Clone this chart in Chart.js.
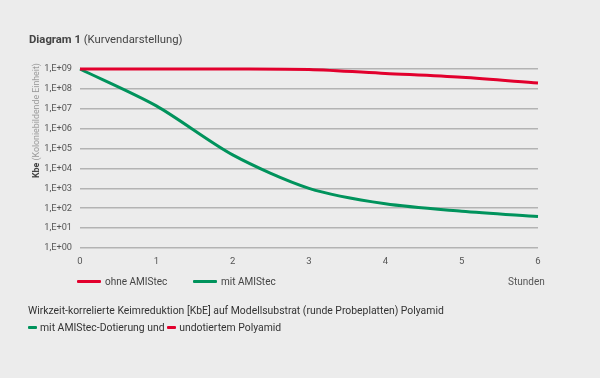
<!DOCTYPE html>
<html>
<head>
<meta charset="utf-8">
<script src="https://cdn.jsdelivr.net/npm/chart.js@4"></script>
<style>
  body { margin: 0; background: #ececec; font-family: Roboto, sans-serif; color: #444; }
  #wrap { position: relative; width: 600px; height: 378px; overflow: hidden; }
  #chart { position: absolute; left: 0; top: 0; }
  .txt { position: absolute; white-space: nowrap; }
  .dash { display: inline-block; width: 9px; height: 3px; border-radius: 1px; vertical-align: middle; margin-right: 3px; position: relative; top: -1px; }
  .lg { display: inline-block; width: 24px; height: 3px; border-radius: 1px; vertical-align: middle; margin-right: 4px; position: relative; top: -1px; }
</style>
</head>
<body>
<div id="wrap">
  <canvas id="chart" width="600" height="378"></canvas>
  <div class="txt" style="left:29px; top:33px; font-size:11.3px; color:#444;"><b style="font-weight:700">Diagram 1</b> (Kurvendarstellung)</div>
  <div class="txt" style="left:31px; top:178px; font-size:8.8px; transform-origin:0 0; transform:rotate(-90deg); color:#999;"><span style="color:#444;font-weight:700">Kbe</span> (Koloniebildende Einheit)</div>
  <div class="txt" style="left:77px; top:276px; font-size:10px; color:#444;"><span class="lg" style="background:#e2002d"></span>ohne AMIStec</div>
  <div class="txt" style="left:193px; top:276px; font-size:10px; color:#444;"><span class="lg" style="background:#00935c"></span>mit AMIStec</div>
  <div class="txt" style="left:508px; top:276px; font-size:10px; color:#555;">Stunden</div>
  <div class="txt" style="left:28px; top:304px; font-size:10.4px; color:#333;">Wirkzeit-korrelierte Keimreduktion [KbE] auf Modellsubstrat (runde Probeplatten) Polyamid</div>
  <div class="txt" style="left:28px; top:321px; font-size:10.4px; color:#333;"><span class="dash" style="background:#00935c"></span>mit AMIStec-Dotierung und <span class="dash" style="background:#e2002d"></span>undotiertem Polyamid</div>
</div>
<script>
// Stunden
const hours = ['0', '1', '2', '3', '4', '5', '6'];
// Kbe ohne AMIStec
const ohneAmistec = [1e9, 1e9, 1e9, 9.5e8, 6e8, 3.8e8, 1.95e8];
// Kbe mit AMIStec
const mitAmistec = [1e9, 1.4e7, 4.8e4, 1e3, 1.66e2, 7.1e1, 3.8e1];
// Achsenbeschriftung y
const yTicks = [1, 1e1, 1e2, 1e3, 1e4, 1e5, 1e6, 1e7, 1e8, 1e9];
const yLabels = ['1,E+00', '1,E+01', '1,E+02', '1,E+03', '1,E+04', '1,E+05', '1,E+06', '1,E+07', '1,E+08', '1,E+09'];

const ctx = document.getElementById('chart').getContext('2d');
new Chart(ctx, {
    type: 'line',
    data: {
        labels: hours,
        datasets: [
            {
                label: 'ohne AMIStec',
                data: ohneAmistec,
                borderColor: '#e2002d',
                borderWidth: 3,
                pointRadius: 0,
                tension: 0.3,
                clip: false,
                order: 0
            },
            {
                label: 'mit AMIStec',
                data: mitAmistec,
                borderColor: '#00935c',
                borderWidth: 3,
                pointRadius: 0,
                tension: 0.28,
                clip: false,
                order: 1
            }
        ]
    },
    options: {
        responsive: false,
        animation: false,
        layout: { padding: { left: 0, top: 69, right: 62, bottom: 110 } },
        plugins: { legend: { display: false }, tooltip: { enabled: false } },
        scales: {
            x: {
                grid: { display: false, drawTicks: false },
                border: { display: false },
                ticks: { padding: 8, color: '#555', font: { family: 'Roboto', size: 9.5 }, maxRotation: 0 },
                afterFit: (scale) => { scale.height = 20; }
            },
            y: {
                type: 'logarithmic',
                min: 1,
                max: 1e9,
                afterBuildTicks: (scale) => { scale.ticks = yTicks.map(v => ({ value: v })); },
                grid: { color: '#b3b3b3', lineWidth: 1.5, drawTicks: false },
                border: { display: false },
                ticks: {
                    padding: 8,
                    color: '#555',
                    font: { family: 'Roboto', size: 9.2 },
                    callback: (v) => yLabels[yTicks.indexOf(v)]
                },
                afterFit: (scale) => { scale.width = 80; }
            }
        }
    }
});
</script>
</body>
</html>
